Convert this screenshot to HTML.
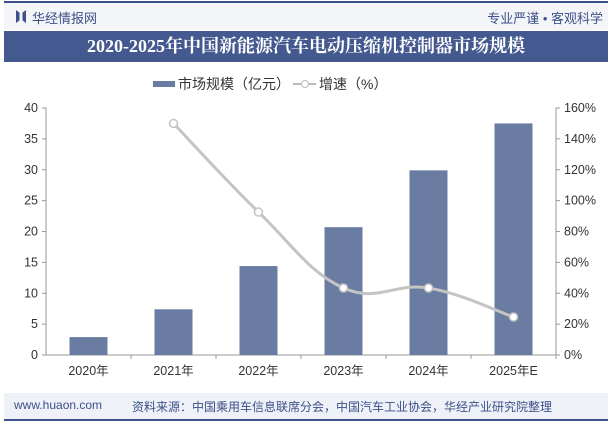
<!DOCTYPE html>
<html><head><meta charset="utf-8"><style>
body{margin:0;width:612px;height:424px;overflow:hidden;background:#fff;font-family:"Liberation Sans","Noto Sans CJK SC",sans-serif;position:relative}
.a{position:absolute}
</style></head><body>
<div class="a" style="left:4px;top:1px;width:604px;height:2px;background:#3d5089"></div>
<div class="a" style="left:4px;top:3px;width:604px;height:27px;background:#f4f5f8"></div>
<div class="a" style="left:16px;top:10px;width:10px;height:13px;background:#3d5089;clip-path:polygon(0 0,35% 20%,35% 80%,0 100%,0 0,100% 0,100% 100%,65% 80%,65% 20%,100% 0)"></div>
<div class="a" style="left:32px;top:8px;font-size:13px;color:#3d5089">华经情报网</div>
<div class="a" style="left:405px;top:8px;width:198px;text-align:right;font-size:13px;color:#3d5089">专业严谨 • 客观科学</div>
<div class="a" style="left:4px;top:31px;width:604px;height:31px;background:#44598f;color:#fff;font-family:'Liberation Serif','Noto Serif CJK SC',serif;font-weight:bold;font-size:18px;line-height:31px;text-align:center">2020-2025年中国新能源汽车电动压缩机控制器市场规模</div>
<div class="a" style="left:153px;top:81px;width:22px;height:6px;background:#6a7ca1"></div>
<div class="a" style="left:178px;top:74px;font-size:14px;color:#333">市场规模（亿元）</div>
<div class="a" style="left:293px;top:83px;width:23px;height:2px;background:#bbb"></div>
<div class="a" style="left:301px;top:80px;width:6px;height:6px;border:1px solid #bbb;border-radius:50%;background:#fff"></div>
<div class="a" style="left:319px;top:74px;font-size:14px;color:#333">增速（%）</div>
<svg class="a" style="left:0;top:0" width="612" height="424" id="chart"></svg>
<div class="a" style="left:4px;top:393px;width:604px;height:26px;background:#eef1f7"></div>
<div class="a" style="left:4px;top:419px;width:604px;height:2px;background:#3d5089"></div>
<div class="a" style="left:14px;top:398px;font-size:12px;color:#3d5089">www.huaon.com</div>
<div class="a" style="left:132px;top:398px;font-size:12px;color:#3d5089">资料来源：中国乘用车信息联席分会，中国汽车工业协会，华经产业研究院整理</div>
<script>
const categories=["2020年","2021年","2022年","2023年","2024年","2025年E"];
const marketSize=[2.9,7.4,14.4,20.7,29.9,37.5];
const growth=[null,150,92.6,43.4,43.4,24.6];
const leftTicks=[0,5,10,15,20,25,30,35,40];
const rightTicks=[0,20,40,60,80,100,120,140,160];
const svg=document.getElementById('chart');const NS='http://www.w3.org/2000/svg';
const X0=46,X1=556,Y0=355,Y1=108;
const band=(X1-X0)/categories.length;
const xc=i=>X0+band*(i+0.5);
const yL=v=>Y0-(v/40)*(Y0-Y1);
const yR=v=>Y0-(v/160)*(Y0-Y1);
function mk(t,a){const e=document.createElementNS(NS,t);for(const k in a)e.setAttribute(k,a[k]);svg.appendChild(e);return e;}
const ax=mk('path',{d:`M${X0-4},${Y1}H${X0}V${Y0}H${X1}V${Y1}H${X1+4}`,stroke:'#999',fill:'none'});


leftTicks.forEach(v=>{const y=yL(v);mk('line',{x1:X0-4,x2:X0,y1:y,y2:y,stroke:'#999'});
const t=mk('text',{x:X0-8,y:y+4,'text-anchor':'end','font-size':12.5,fill:'#333'});t.textContent=v;

});
rightTicks.forEach(v=>{const y=yR(v);mk('line',{x1:X1,x2:X1+4,y1:y,y2:y,stroke:'#999'});
const t=mk('text',{x:X1+8,y:y+4,'font-size':12.5,fill:'#333'});t.textContent=v+'%';

});
categories.forEach((c,i)=>{mk('line',{x1:X0+band*(i+1),x2:X0+band*(i+1),y1:Y0,y2:Y0+4,stroke:'#999'});
const b=mk('rect',{x:xc(i)-19,y:yL(marketSize[i]),width:38,height:Y0-yL(marketSize[i]),fill:'#6a7ca1'});


const t=mk('text',{x:xc(i),y:Y0+20,'text-anchor':'middle','font-size':12.5,fill:'#333'});t.textContent=c;

});
const pts=growth.map((g,i)=>g==null?null:[xc(i),yR(g)]).filter(p=>p);
let d='M'+pts[0].join(',');
const k=0.4;
for(let i=0;i<pts.length-1;i++){const p0=pts[i-1]||pts[i],p1=pts[i],p2=pts[i+1],p3=pts[i+2]||p2;
const c1=[p1[0]+(p2[0]-p0[0])*k/2,p1[1]+(p2[1]-p0[1])*k/2];
const c2=[p2[0]-(p3[0]-p1[0])*k/2,p2[1]-(p3[1]-p1[1])*k/2];
d+=`C${c1[0]},${c1[1]} ${c2[0]},${c2[1]} ${p2[0]},${p2[1]}`;}
const ln=mk('path',{d:d,stroke:'#c4c4c4','stroke-width':3,fill:'none'});


pts.forEach(p=>{const c=mk('circle',{cx:p[0],cy:p[1],r:4,fill:'#fff',stroke:'#c4c4c4','stroke-width':1.5});

});
</script>
</body></html>
